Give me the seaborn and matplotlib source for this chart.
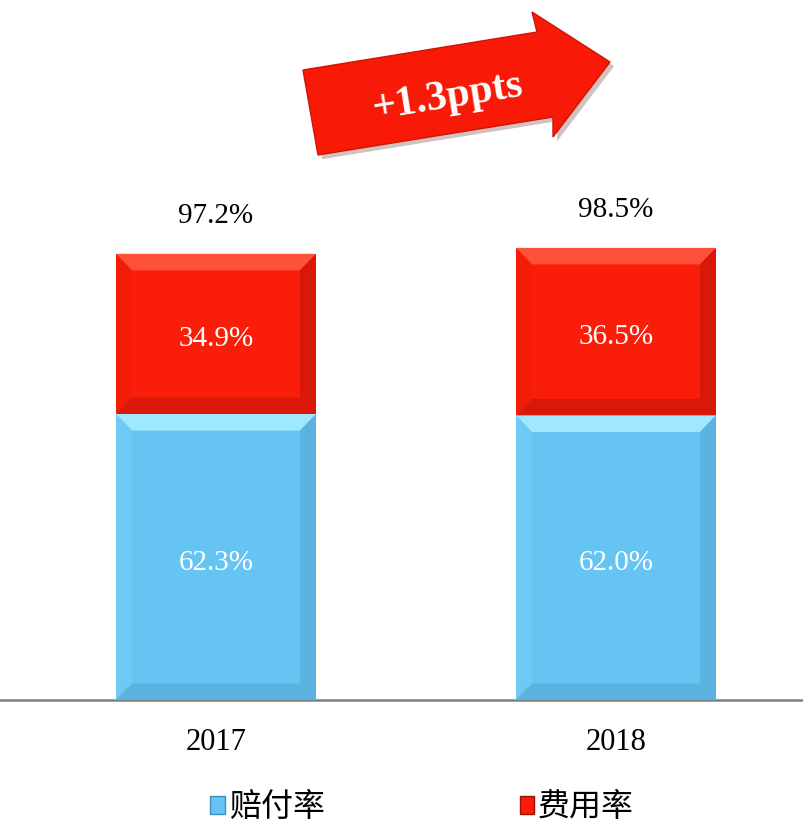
import numpy as np
import pandas as pd
import seaborn as sns
import matplotlib.pyplot as plt
from matplotlib.patches import Polygon, Patch
import matplotlib.patheffects as pe

# Data
years = ["2017", "2018"]
claims_ratio = [62.3, 62.0]     # 赔付率
expense_ratio = [34.9, 36.5]    # 费用率
combined_ratio = [97.2, 98.5]
change_label = "+1.3ppts"
legend_labels = ["赔付率", "费用率"]

blue = "#66C4F3"
red = "#FA1E0A"

df = pd.DataFrame({"year": years, "claims": claims_ratio,
                   "expense": expense_ratio, "total": combined_ratio})

sns.set_style("white")
plt.rcParams["font.family"] = ["Liberation Serif", "DejaVu Serif"]
plt.rcParams["text.color"] = "black"
plt.rcParams["xtick.color"] = "black"

fig = plt.figure(figsize=(8.04, 8.23), dpi=100)
ax = fig.add_axes([0, 123 / 823, 1, 700 / 823])

sns.barplot(data=df, x="year", y="total", color=red, width=0.5, saturation=1, ax=ax)
n = len(ax.patches)
sns.barplot(data=df, x="year", y="claims", color=blue, width=0.5, saturation=1, ax=ax)
red_bars = ax.patches[:n]
blue_bars = ax.patches[n:]

ax.set_xlim(-0.54, 1.47)
ax.set_ylim(0, 152.5)


def bevel(x0, x1, y0, y1, light, dark, side):
    bx, by = 0.04, 3.6
    ax.add_patch(Polygon([(x0, y1), (x1, y1), (x1 - bx, y1 - by), (x0 + bx, y1 - by)],
                         color=light, lw=0, zorder=3))
    ax.add_patch(Polygon([(x0, y0), (x0, y1), (x0 + bx, y1 - by), (x0 + bx, y0 + by)],
                         color=side, lw=0, zorder=3))
    ax.add_patch(Polygon([(x1, y0), (x1, y1), (x1 - bx, y1 - by), (x1 - bx, y0 + by)],
                         color=dark, lw=0, zorder=3))
    ax.add_patch(Polygon([(x0, y0), (x1, y0), (x1 - bx, y0 + by), (x0 + bx, y0 + by)],
                         color=dark, lw=0, zorder=3))


for rb, bb in zip(red_bars, blue_bars):
    x0 = bb.get_x()
    x1 = x0 + bb.get_width()
    hb = bb.get_height()
    ht = rb.get_height()
    bevel(x0, x1, 0, hb, "#9FE8FF", "#5AB2E0", "#6ECAF5")
    bevel(x0, x1, hb, ht, "#FF5038", "#DA1808", "#F21C08")
    xc = x0 + bb.get_width() / 2
    ax.annotate(f"{hb:.1f}%", (xc, hb / 2), xytext=(0, -4), textcoords="offset points",
                color="white", fontsize=21, ha="center", va="center", zorder=5)
    ax.annotate(f"{ht - hb:.1f}%", (xc, hb + (ht - hb) / 2), xytext=(0, -4),
                textcoords="offset points", color="white", fontsize=21,
                ha="center", va="center", zorder=5)
    ax.annotate(f"{ht:.1f}%", (xc, ht), xytext=(0, 27), textcoords="offset points",
                ha="center", va="center", fontsize=21, color="black")

sns.despine(ax=ax, left=True, top=True, right=True)
ax.spines["bottom"].set_color("#7F7F7F")
ax.spines["bottom"].set_linewidth(1.8)
ax.set_yticks([])
ax.set_xlabel("")
ax.set_ylabel("")
ax.tick_params(axis="x", length=0, pad=20, labelsize=22)

# arrow (pixel points of the picture converted to figure fractions)
pts = [(303, 70), (537, 32), (532, 12), (610, 62), (553, 137), (553, 117), (318, 155)]
arrow = Polygon([(x / 804, 1 - y / 823) for x, y in pts], closed=True,
                transform=fig.transFigure, facecolor="#F81A06", edgecolor="#D01404", lw=1,
                path_effects=[pe.SimplePatchShadow(offset=(3, -3), alpha=0.25), pe.Normal()])
fig.patches.append(arrow)
fig.text(448 / 804, 1 - 97 / 823, change_label, color="white", fontsize=30,
         fontweight="bold", rotation=9, ha="center", va="center")

handles = [Patch(facecolor=blue, edgecolor="#3A8FC0"),
           Patch(facecolor=red, edgecolor="#A01000")]
fig.legend(handles, legend_labels, loc="center", bbox_to_anchor=(0.525, 0.019),
           ncol=2, frameon=False, handlelength=0.45, handleheight=0.45,
           handletextpad=0.12, columnspacing=6.1,
           prop={"family": ["Noto Sans CJK SC", "DejaVu Sans"], "size": 23})

fig.savefig("out.png", dpi=100)
